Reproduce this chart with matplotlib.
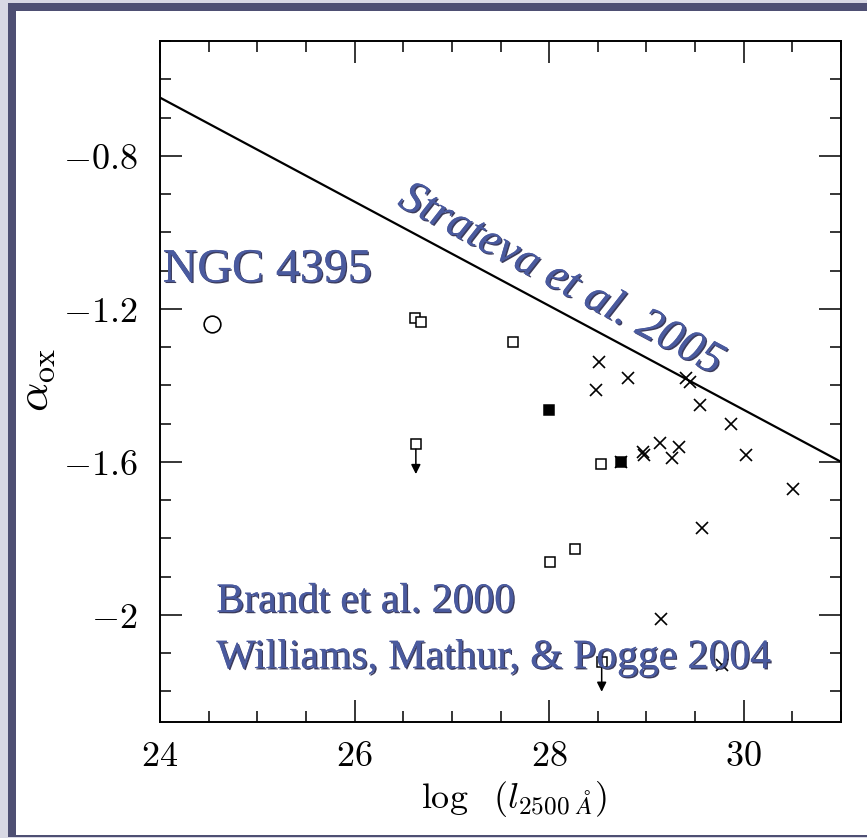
import matplotlib
matplotlib.use("Agg")
import matplotlib.pyplot as plt
import numpy as np
from matplotlib.patches import Rectangle
from matplotlib.ticker import MultipleLocator, FixedLocator, FixedFormatter
import matplotlib.patheffects as pe

plt.rcParams["mathtext.fontset"] = "cm"

# --- data -------------------------------------------------------------
# NGC 4395
ngc_x = [24.53]
ngc_y = [-1.24]

# Brandt et al. 2000 / Williams et al. 2004: open squares (detections)
open_sq_x = [26.62, 26.68, 27.63, 28.53, 28.27, 28.01]
open_sq_y = [-1.225, -1.234, -1.287, -1.606, -1.828, -1.861]

# filled squares
filled_sq_x = [28.00, 28.74]
filled_sq_y = [-1.465, -1.601]

# upper limits (squares with downward arrows)
limit_x = [26.63, 28.54]
limit_y = [-1.554, -2.123]
limit_len = 0.078

# crosses
cross_x = [28.51, 28.81, 28.48, 29.41, 29.45, 29.55, 29.87, 28.96, 28.98,
           29.14, 29.33, 29.26, 30.02, 30.51, 29.57, 29.15, 29.78, 28.74]
cross_y = [-1.340, -1.382, -1.412, -1.381, -1.391, -1.452, -1.502, -1.574,
           -1.582, -1.552, -1.561, -1.591, -1.582, -1.672, -1.772, -2.012,
           -2.131, -1.601]

# Strateva et al. 2005 relation, evaluated at the plot edges
strateva_x = [24.0, 31.0]
strateva_y = [-0.648, -1.600]

xticks = [24, 26, 28, 30]
xtick_labels = ["$24$", "$26$", "$28$", "$30$"]
yticks = [-0.8, -1.2, -1.6, -2.0]
ytick_labels = ["$-0.8$", "$-1.2$", "$-1.6$", "$-2$"]

# --- figure and frame ---------------------------------------------------
W, H = 867, 838
fig = plt.figure(figsize=(W / 100, H / 100), dpi=100)
fig.patch.set_facecolor("#d8d8e4")
fig.patches.append(Rectangle((8 / W, 1 / H), 1 - 8 / W, (837 - 3) / H,
                             transform=fig.transFigure, facecolor="#4e4f73",
                             edgecolor="none", zorder=-2))
fig.patches.append(Rectangle((16 / W, 3 / H), 1 - 16 / W, (835 - 11) / H,
                             transform=fig.transFigure, facecolor="white",
                             edgecolor="none", zorder=-1))

ax = fig.add_axes([160 / W, (H - 722) / H, 681 / W, 681 / H])
ax.set_facecolor("white")
ax.set_xlim(24, 31)
ax.set_ylim(-2.28, -0.5)

# --- marks -------------------------------------------------------------
ax.plot(strateva_x, strateva_y, color="black", lw=1.6, zorder=2)

ax.plot(ngc_x, ngc_y, "o", ms=12, mfc="white", mec="black", mew=1.2, zorder=3)
ax.plot(open_sq_x, open_sq_y, "s", ms=7, mfc="white", mec="black", mew=1.1,
        zorder=3)
ax.plot(cross_x, cross_y, "x", ms=9, color="black", mew=1.2, zorder=3)
ax.plot(filled_sq_x, filled_sq_y, "s", ms=7, mfc="black", mec="black",
        mew=1.1, zorder=4)
ax.plot(limit_x, limit_y, "s", ms=7, mfc="white", mec="black", mew=1.1,
        zorder=3)
for lx, ly in zip(limit_x, limit_y):
    ax.annotate("", xy=(lx, ly - limit_len), xytext=(lx, ly - 0.013),
                arrowprops=dict(arrowstyle="-|>", color="black", lw=1.1,
                                mutation_scale=14, shrinkA=0, shrinkB=0),
                zorder=3)

# --- axes styling --------------------------------------------------------
for s in ax.spines.values():
    s.set_linewidth(1.4)
ax.xaxis.set_major_locator(FixedLocator(xticks))
ax.xaxis.set_major_formatter(FixedFormatter(xtick_labels))
ax.xaxis.set_minor_locator(MultipleLocator(0.5))
ax.yaxis.set_major_locator(FixedLocator(yticks))
ax.yaxis.set_major_formatter(FixedFormatter(ytick_labels))
ax.yaxis.set_minor_locator(MultipleLocator(0.1))
ax.tick_params(which="both", direction="in", top=True, right=True,
               width=1.1, labelsize=26)
ax.tick_params(which="major", length=16)
ax.tick_params(which="minor", length=8)
ax.tick_params(axis="x", pad=12)
ax.tick_params(axis="y", pad=16)

fig.text(514 / W, 1 - 799 / H, r"$\log\ \ (l_{2500\ \AA})$", fontsize=26,
         ha="center", va="center")
fig.text(36 / W, 1 - 380 / H, r"$\alpha_{\rm ox}$", fontsize=33,
         rotation=90, ha="center", va="center")

# --- annotations ---------------------------------------------------------
blue = "#4a5a9e"
shadow = [pe.withSimplePatchShadow(offset=(1.0, -1.0),
                                   shadow_rgbFace="#1a1a40", alpha=0.85),
          pe.Normal()]
serif = ["Liberation Serif", "DejaVu Serif"]

ax.text(24.028, -1.129, "NGC 4395", fontsize=34.5, family=serif, color=blue,
        ha="left", va="baseline", path_effects=shadow, zorder=5)

# label along the relation, rotated to the line's on-screen angle
p0 = ax.transData.transform((strateva_x[0], strateva_y[0]))
p1 = ax.transData.transform((strateva_x[1], strateva_y[1]))
angle = np.degrees(np.arctan2(p1[1] - p0[1], p1[0] - p0[0]))
ax.text(28.07, -1.152, "Strateva et al. 2005", fontsize=33.2, family=serif,
        style="italic", color=blue, rotation=angle, rotation_mode="anchor",
        ha="center", va="baseline", path_effects=shadow, zorder=5)

ax.text(24.58, -1.992, "Brandt et al. 2000", fontsize=30, family=serif,
        color=blue, ha="left", va="baseline", path_effects=shadow, zorder=5)
ax.text(24.58, -2.139, "Williams, Mathur, & Pogge 2004", fontsize=30,
        family=serif, color=blue, ha="left", va="baseline",
        path_effects=shadow, zorder=5)

fig.savefig("out.png", dpi=100)
